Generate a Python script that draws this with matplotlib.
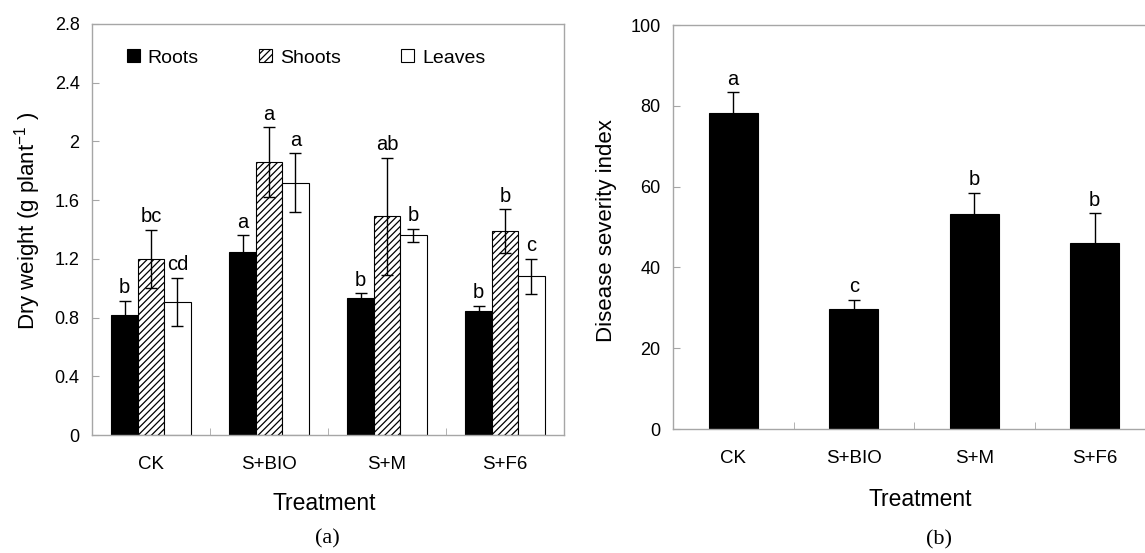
'''
Dry weight and disease severity index by treatment
'''

import matplotlib
matplotlib.use('Agg')
import matplotlib.pyplot as plt
from matplotlib.ticker import FormatStrFormatter

plt.rcParams['font.family'] = ['Liberation Sans', 'DejaVu Sans']
plt.rcParams['hatch.linewidth'] = 0.9

# treatments
treatments = ['CK', 'S+BIO', 'S+M', 'S+F6']

# (a) dry weight, g per plant
roots = [0.82, 1.25, 0.93, 0.845]
roots_err = [0.093, 0.11, 0.035, 0.034]
roots_letters = ['b', 'a', 'b', 'b']
shoots = [1.20, 1.86, 1.49, 1.39]
shoots_err = [0.20, 0.236, 0.40, 0.148]
shoots_letters = ['bc', 'a', 'ab', 'b']
leaves = [0.906, 1.72, 1.36, 1.08]
leaves_err = [0.165, 0.20, 0.045, 0.122]
leaves_letters = ['cd', 'a', 'b', 'c']

# (b) disease severity index
dsi = [78.2, 29.8, 53.1, 46.1]
dsi_err = [5.1, 2.2, 5.3, 7.3]
dsi_letters = ['a', 'c', 'b', 'b']

GRAY = '#a6a6a6'
W, H = 1145, 553


def style_axes(ax):
    for s in ax.spines.values():
        s.set_color(GRAY)
        s.set_linewidth(1)
    ax.set_xlim(-0.5, 3.5)
    ax.set_xticks(range(len(treatments)))
    ax.set_xticklabels(treatments)
    ax.set_xticks([0.5, 1.5, 2.5], minor=True)
    ax.tick_params(axis='x', which='major', length=0, labelsize=13.5, pad=15)
    ax.tick_params(axis='x', which='minor', direction='in', length=5, color=GRAY)
    ax.tick_params(axis='y', direction='in', length=5, color=GRAY, labelsize=13, pad=9)


def letters(ax, xs, vals, errs, labs):
    for x, v, e, t in zip(xs, vals, errs, labs):
        ax.annotate(t, (x, v + e), xytext=(0, 5.5), textcoords='offset points',
                    ha='center', va='baseline', fontsize=14.5)


fig = plt.figure(figsize=(W / 100, H / 100), dpi=100)
ax1 = fig.add_axes([92 / W, (H - 435) / H, 472 / W, 411 / H])
ax2 = fig.add_axes([673 / W, (H - 429) / H, 482 / W, 404 / H])

# ---- (a)
w = 0.224
x = list(range(len(treatments)))
xr = [i - w for i in x]
xl = [i + w for i in x]
ax1.bar(xr, roots, w, color='black', edgecolor='black', lw=0.8, label='Roots')
ax1.bar(x, shoots, w, color='white', edgecolor='black', lw=0.8, hatch='/////', label='Shoots')
ax1.bar(xl, leaves, w, color='white', edgecolor='black', lw=0.8, label='Leaves')
for xs, v, e in [(xr, roots, roots_err), (x, shoots, shoots_err), (xl, leaves, leaves_err)]:
    ax1.errorbar(xs, v, yerr=e, fmt='none', ecolor='black', elinewidth=1, capsize=4, capthick=1)
letters(ax1, xr, roots, roots_err, roots_letters)
letters(ax1, x, shoots, shoots_err, shoots_letters)
letters(ax1, xl, leaves, leaves_err, leaves_letters)

style_axes(ax1)
ax1.set_ylim(0, 2.8)
ax1.set_yticks([0, 0.4, 0.8, 1.2, 1.6, 2.0, 2.4, 2.8])
ax1.yaxis.set_major_formatter(FormatStrFormatter('%g'))
ax1.set_ylabel('Dry weight (g plant$^{\\mathregular{-1}}$ )', fontsize=16, va='center')
ax1.yaxis.set_label_coords(-0.1356, 0.52)
ax1.set_xlabel('Treatment', fontsize=16.5, va='center')
ax1.xaxis.set_label_coords(0.4915, -0.1655)
ax1.legend(ncol=3, loc='center left', bbox_to_anchor=(35 / 472, 0.917), frameon=False,
           fontsize=14, handlelength=0.65, handleheight=0.65, handletextpad=0.42,
           columnspacing=3.1, borderpad=0, borderaxespad=0)

# ---- (b)
ax2.bar(x, dsi, 0.41, color='black', edgecolor='black', lw=0.8)
ax2.errorbar(x, dsi, yerr=dsi_err, fmt='none', ecolor='black', elinewidth=1, capsize=4, capthick=1)
letters(ax2, x, dsi, dsi_err, dsi_letters)
style_axes(ax2)
ax2.set_ylim(0, 100)
ax2.set_yticks(range(0, 101, 20))
ax2.set_ylabel('Disease severity index', fontsize=16, va='center')
ax2.yaxis.set_label_coords(-0.1376, 0.49)
ax2.set_xlabel('Treatment', fontsize=16.5, va='center')
ax2.xaxis.set_label_coords(0.512, -0.1757)

fig.text(327 / W, 1 - 539 / H, '(a)', family='Liberation Serif', fontsize=16, ha='center', va='center')
fig.text(939 / W, 1 - 540 / H, '(b)', family='Liberation Serif', fontsize=16, ha='center', va='center')

fig.savefig('out.png', dpi=100)
